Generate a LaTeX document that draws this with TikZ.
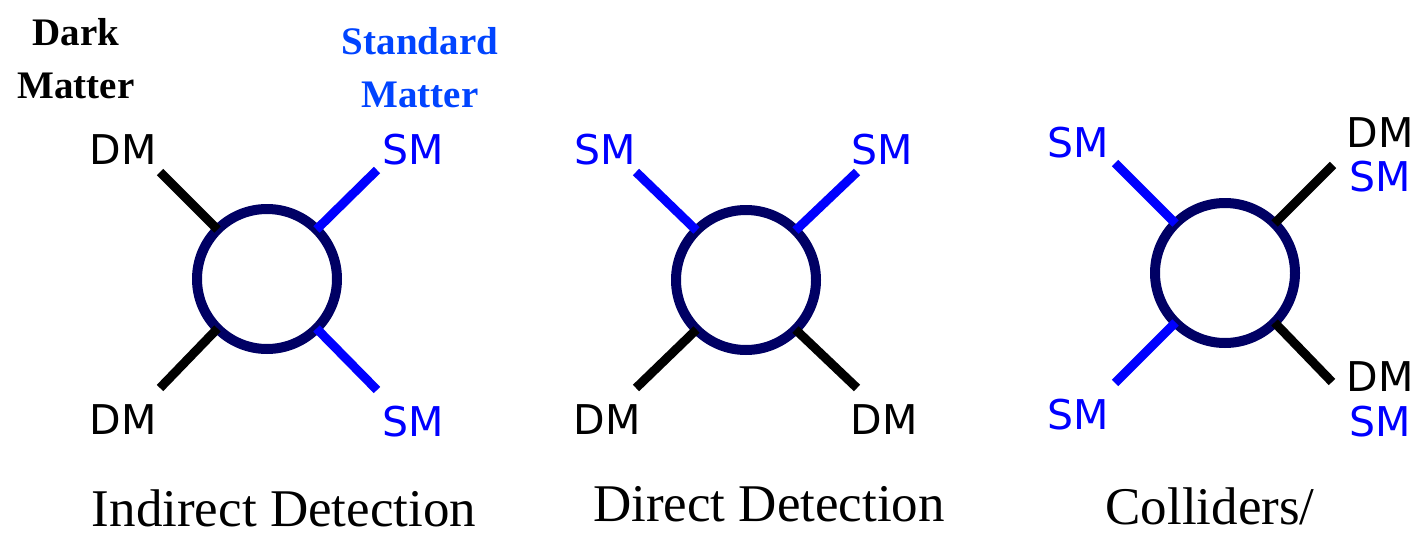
\documentclass[tikz,border=0pt]{standalone}
\usepackage{fontspec}
\setmainfont{Liberation Serif}
\newfontfamily\dejavu{DejaVu Sans}
\usetikzlibrary{positioning}
\definecolor{smblue}{RGB}{0,0,255}
\definecolor{navyring}{RGB}{0,0,100}
\definecolor{headblue}{RGB}{0,68,255}

\begin{document}
\begin{tikzpicture}[x=1pt, y=-1pt,
    blob/.style={circle, draw=navyring, fill=white, line width=10pt,
        minimum size=140pt, inner sep=0pt, outer sep=0pt},
    dmleg/.style={line width=9pt, black},
    smleg/.style={line width=9pt, smblue},
    dmlab/.style={font=\dejavu\fontsize{41}{49}\selectfont, black, inner sep=0pt},
    smlab/.style={font=\dejavu\fontsize{41}{49}\selectfont, smblue, inner sep=0pt},
    head/.style={font=\fontsize{39}{53}\selectfont\bfseries, align=center, inner sep=0pt},
    caption/.style={font=\fontsize{53}{60}\selectfont, anchor=base, inner sep=0pt}
]
    \useasboundingbox (0,0) rectangle (1414,538);

    \node[head] (dmhead) at (76,59) {Dark\\Matter};
    \node[head, headblue] (smhead) at (420,68) {Standard\\Matter};

    % indirect detection
    \node[blob] (ind) at (267,279) {};
    \coordinate (ind-a) at (160,172);
    \coordinate (ind-b) at (377,170);
    \coordinate (ind-c) at (160,388);
    \coordinate (ind-d) at (377,390);
    \draw[dmleg] (ind.135) -- (ind-a);
    \draw[dmleg] (ind.225) -- (ind-c);
    \draw[smleg] (ind.45) -- (ind-b);
    \draw[smleg] (ind.315) -- (ind-d);
    \node[dmlab] (ind-la) at (123,150) {DM};
    \node[dmlab] (ind-lc) at (123,420) {DM};
    \node[smlab] (ind-lb) at (413,150) {SM};
    \node[smlab] (ind-ld) at (413,422) {SM};
    \node[caption] (ind-cap) at (284,526) {Indirect Detection};

    % direct detection
    \node[blob] (dir) at (746,280) {};
    \coordinate (dir-a) at (636,172);
    \coordinate (dir-b) at (857,172);
    \coordinate (dir-c) at (636,388);
    \coordinate (dir-d) at (857,388);
    \draw[smleg] (dir.135) -- (dir-a);
    \draw[smleg] (dir.45) -- (dir-b);
    \draw[dmleg] (dir.225) -- (dir-c);
    \draw[dmleg] (dir.315) -- (dir-d);
    \node[smlab] (dir-la) at (605,150) {SM};
    \node[smlab] (dir-lb) at (882,150) {SM};
    \node[dmlab] (dir-lc) at (607,420) {DM};
    \node[dmlab] (dir-ld) at (884,420) {DM};
    \node[caption] (dir-cap) at (769,521) {Direct Detection};

    % colliders
    \node[blob] (col) at (1225,273) {};
    \coordinate (col-a) at (1115,163);
    \coordinate (col-b) at (1333,165);
    \coordinate (col-c) at (1115,383);
    \coordinate (col-d) at (1332,382);
    \draw[smleg] (col.135) -- (col-a);
    \draw[smleg] (col.225) -- (col-c);
    \draw[dmleg] (col.45) -- (col-b);
    \draw[dmleg] (col.315) -- (col-d);
    \node[smlab] (col-la) at (1078,143) {SM};
    \node[smlab] (col-lc) at (1078,415) {SM};
    \node[dmlab] (col-lb) at (1380,133) {DM};
    \node[smlab] (col-lb2) at (1380,177) {SM};
    \node[dmlab] (col-ld) at (1380,377) {DM};
    \node[smlab] (col-ld2) at (1380,422) {SM};
    \node[caption] (col-cap) at (1210,524) {Colliders/};
\end{tikzpicture}
\end{document}
